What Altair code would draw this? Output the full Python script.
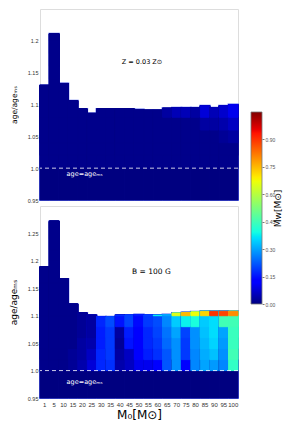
import altair as alt
import pandas as pd

masses = [1, 5, 10, 15, 20, 25, 30, 35, 40, 45, 50, 55, 60, 65, 70, 75, 80, 85, 90, 95, 100]

top_heights = [1.130, 1.211, 1.133, 1.106, 1.093, 1.086, 1.093, 1.093, 1.093, 1.093, 1.092,
               1.091, 1.091, 1.094, 1.095, 1.095, 1.095, 1.098, 1.095, 1.098, 1.100]
bottom_heights = [1.189, 1.272, 1.167, 1.121, 1.105, 1.101, 1.098, 1.098, 1.101, 1.101, 1.102,
                  1.101, 1.101, 1.102, 1.105, 1.106, 1.107, 1.108, 1.108, 1.108, 1.108]

# M_w of each cell, from age/age_MS = 1.00 upward in steps of 0.02
top_mw = [
    [0.01, 0.01, 0.01, 0.01, 0.01, 0.01, 0.01],
    [0.01, 0.01, 0.01, 0.01, 0.01, 0.01, 0.01, 0.01, 0.01, 0.01, 0.01],
    [0.01, 0.01, 0.01, 0.01, 0.01, 0.01, 0.01],
    [0.01, 0.01, 0.01, 0.01, 0.01, 0.01],
    [0.01, 0.01, 0.01, 0.01, 0.01],
    [0.01, 0.01, 0.01, 0.01, 0.01],
    [0.01, 0.01, 0.01, 0.01, 0.01],
    [0.01, 0.01, 0.01, 0.01, 0.01],
    [0.01, 0.01, 0.01, 0.01, 0.01],
    [0.01, 0.01, 0.01, 0.01, 0.01],
    [0.01, 0.01, 0.01, 0.01, 0.01],
    [0.01, 0.01, 0.01, 0.01, 0.01],
    [0.01, 0.01, 0.01, 0.01, 0.01],
    [0.01, 0.01, 0.01, 0.01, 0.03],
    [0.01, 0.01, 0.01, 0.01, 0.05],
    [0.01, 0.01, 0.01, 0.01, 0.05],
    [0.01, 0.01, 0.01, 0.01, 0.03],
    [0.01, 0.01, 0.01, 0.03, 0.08],
    [0.01, 0.01, 0.01, 0.03, 0.05],
    [0.01, 0.01, 0.02, 0.04, 0.07],
    [0.01, 0.01, 0.03, 0.06, 0.10],
]
bottom_mw = [
    [0.01, 0.01, 0.01, 0.01, 0.01, 0.01, 0.01, 0.01, 0.01, 0.01],
    [0.01, 0.01, 0.01, 0.01, 0.01, 0.01, 0.01, 0.01, 0.01, 0.01, 0.01, 0.01, 0.01, 0.01],
    [0.01, 0.01, 0.01, 0.01, 0.01, 0.01, 0.01, 0.01, 0.01],
    [0.02, 0.02, 0.01, 0.01, 0.01, 0.01, 0.01],
    [0.04, 0.03, 0.03, 0.02, 0.02, 0.02],
    [0.08, 0.06, 0.04, 0.03, 0.03, 0.03],
    [0.17, 0.17, 0.16, 0.16, 0.17],
    [0.18, 0.19, 0.19, 0.19, 0.21],
    [0.04, 0.03, 0.02, 0.03, 0.15, 0.18],
    [0.06, 0.06, 0.15, 0.16, 0.20, 0.20],
    [0.10, 0.13, 0.13, 0.13, 0.14, 0.16],
    [0.10, 0.16, 0.17, 0.17, 0.19, 0.20],
    [0.13, 0.18, 0.19, 0.20, 0.21, 0.38],
    [0.22, 0.22, 0.24, 0.25, 0.27, 0.30],
    [0.28, 0.28, 0.28, 0.30, 0.34, 0.65],
    [0.13, 0.19, 0.19, 0.20, 0.38, 0.75],
    [0.27, 0.27, 0.28, 0.28, 0.40, 0.67],
    [0.30, 0.31, 0.32, 0.33, 0.34, 0.72],
    [0.29, 0.33, 0.35, 0.36, 0.36, 0.90],
    [0.27, 0.28, 0.29, 0.30, 0.45, 0.88],
    [0.43, 0.45, 0.44, 0.44, 0.45, 0.80],
]

top_yticks = [0.95, 1.0, 1.05, 1.1, 1.15, 1.2]
bottom_yticks = [0.95, 1.0, 1.05, 1.1, 1.15, 1.2, 1.25]
cbar_ticks = [0.0, 0.15, 0.30, 0.45, 0.60, 0.75, 0.90]
cbar_min, cbar_max = 0.0, 1.05

cell_step = 0.02
base_level = 1.00
floor_level = 0.95

# jet colormap
jet_frac = [0, 0.11, 0.125, 0.34, 0.35, 0.375, 0.64, 0.65, 0.66, 0.89, 0.91, 1.0]
jet_cols = ["#000080", "#0000ff", "#0000ff", "#00dbff", "#00e6f7", "#15ffe2",
            "#eeff08", "#f7f500", "#ffec00", "#ff1300", "#e80000", "#800000"]
cdomain = [cbar_min + f * (cbar_max - cbar_min) for f in jet_frac]

FONT = "DejaVu Sans"
LFONT = "Liberation Sans"


def build_cells(heights, mw_lists):
    # each cell is drawn from its lower edge up to the bar top; later (higher) cells
    # cover the upper part of earlier ones, so the visible part is one grid cell
    rows = []
    for m, h, cells in zip(masses, heights, mw_lists):
        rows.append({"M0": m, "y0": floor_level, "y1": h, "mw": 0.0})
        for k, v in enumerate(cells):
            lo = base_level + k * cell_step
            if lo >= h:
                break
            rows.append({"M0": m, "y0": lo, "y1": h, "mw": v})
    df = pd.DataFrame(rows)
    df["mw_edge"] = df["mw"]
    return df


def panel(heights, mw_lists, ydom, yticks, ytitle, ytsize, note, note_m, note_y, note_size,
          eq_y, height, show_x):
    cells = build_cells(heights, mw_lists)
    bars = pd.DataFrame({"M0": masses, "top": heights})
    xaxis = (alt.Axis(labelAngle=0, labelFontSize=6, labelFont=LFONT, labelColor="#333333",
                      labelOverlap=False, ticks=False, domain=False, labelPadding=3,
                      title="M₀[M⊙]", titleFont=FONT, titleFontSize=12,
                      titleFontWeight="normal", titlePadding=2)
             if show_x else None)
    x = alt.X("M0:O", scale=alt.Scale(domain=masses, paddingInner=0, paddingOuter=0),
              axis=xaxis)
    yscale = alt.Scale(domain=ydom, nice=False, zero=False)
    yaxis = alt.Axis(values=yticks, labelExpr="datum.value == 1 ? '1.0' : format(datum.value, '~g')",
                     labelFontSize=5.5, labelFont=LFONT, labelColor="#333333", ticks=False,
                     domain=False, grid=False, labelPadding=2, labelOverlap=False,
                     title=ytitle, titleFont=FONT,
                     titleFontSize=ytsize, titleFontWeight="normal", titlePadding=9)

    outline = alt.Chart(bars).mark_rect(fillOpacity=0, stroke="#5a6cf0", strokeWidth=2).encode(
        x=x, y=alt.Y("top:Q", scale=yscale, axis=yaxis), y2=alt.datum(floor_level))
    rects = alt.Chart(cells).mark_rect(strokeWidth=1).encode(
        x=x,
        y=alt.Y("y0:Q", scale=yscale, axis=yaxis),
        y2="y1:Q",
        color=alt.Color("mw:Q", scale=alt.Scale(domain=cdomain, range=jet_cols,
                                                 interpolate="rgb"), legend=None),
        stroke=alt.Stroke("mw_edge:Q", scale=alt.Scale(domain=cdomain, range=jet_cols,
                                                        interpolate="rgb"), legend=None),
    )
    rule = alt.Chart(pd.DataFrame({"y": [1.0]})).mark_rule(
        color="white", strokeDash=[4, 3], strokeWidth=0.8).encode(
        y=alt.Y("y:Q", scale=yscale, axis=yaxis))
    eqtxt = alt.Chart(pd.DataFrame({"M0": [10], "y": [eq_y], "t": ["age=ageₘₛ"]})).mark_text(
        align="left", baseline="middle", dx=3, color="white", font=FONT, fontSize=6.5).encode(
        x=x, y=alt.Y("y:Q", scale=yscale, axis=yaxis), text="t:N")
    ntxt = alt.Chart(pd.DataFrame({"M0": [note_m], "y": [note_y], "t": [note]})).mark_text(
        align="center", baseline="middle", dx=3, color="black", font=FONT,
        fontSize=note_size).encode(x=x, y=alt.Y("y:Q", scale=yscale, axis=yaxis), text="t:N")
    main = alt.layer(outline, rects, rule, eqtxt, ntxt)
    if not show_x:
        return main.properties(width=198, height=height)

    # colour bar (drawn beside the lower panel, reaching up beside the upper one)
    grad = alt.Gradient(
        gradient="linear", x1=0, x2=0, y1=1, y2=0,
        stops=[alt.GradientStop(offset=f, color=c) for f, c in zip(jet_frac, jet_cols)])
    cbar = alt.Chart(pd.DataFrame({"lo": [cbar_min], "hi": [cbar_max]})).mark_rect(
        fill=grad, stroke="#777777", strokeWidth=0.8).encode(
        x=alt.value(211), x2=alt.value(222),
        y=alt.Y("lo:Q", scale=alt.Scale(domain=[cbar_min, cbar_max], range=[98, -94],
                                        nice=False, zero=False),
                axis=alt.Axis(orient="right", offset=24, values=cbar_ticks, format=".2f",
                              labelFontSize=5, labelFont=LFONT, labelColor="#555555",
                              labelPadding=1, tickSize=2, tickColor="#777777", domain=False,
                              grid=False, labelOverlap=False, title="Mw[M⊙]", titleFont=FONT,
                              titleFontSize=9, titleFontWeight="normal", titleAngle=270,
                              titlePadding=8)),
        y2="hi:Q")
    return alt.layer(main, cbar).resolve_scale(y="independent").properties(
        width=198, height=height)


top = panel(top_heights, top_mw, [0.95, 1.25], top_yticks, "age/ageₘₛ", 7.5,
            "Z = 0.03 Z⊙", 50, 1.166, 6.5, 0.991, 191, False)
bottom = panel(bottom_heights, bottom_mw, [0.95, 1.30], bottom_yticks, "age/ageₘₛ", 9,
               "B = 100 G", 55, 1.18, 7.5, 0.980, 192, True)

chart = alt.vconcat(top, bottom, spacing=6, bounds="flush").properties(
    padding={"left": 0, "top": 0, "right": 0, "bottom": 0}
).configure_view(stroke="#888888", strokeWidth=1).configure(background="white")

chart.save("out.html", embed_options={"renderer": "svg", "actions": False})
